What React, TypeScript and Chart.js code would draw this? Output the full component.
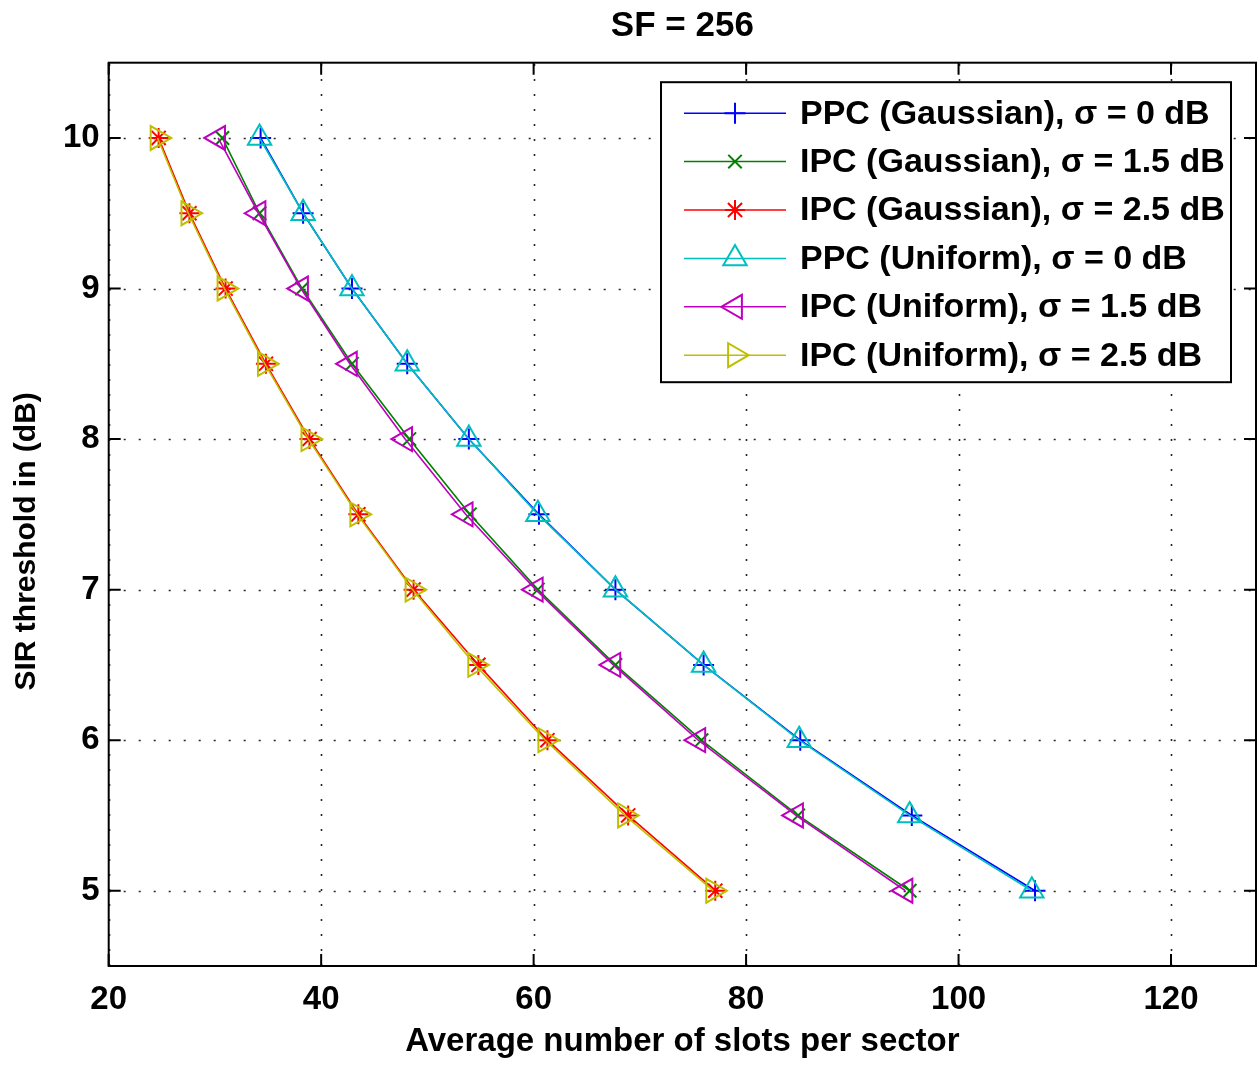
import React, { useEffect, useRef } from 'react';
import { Chart, registerables } from 'chart.js';
import { drawPoint } from 'chart.js/helpers';

Chart.register(...registerables);

const sirLevels = [10, 9.5, 9, 8.5, 8, 7.5, 7, 6.5, 6, 5.5, 5];
const ppcGaussian = [34.3, 38.3, 42.9, 48.1, 53.9, 60.5, 67.7, 76.0, 85.1, 95.6, 107.2];
const ipcGaussian15 = [30.7, 34.2, 38.2, 42.9, 48.3, 54.0, 60.4, 67.7, 75.8, 84.9, 95.4];
const ipcGaussian25 = [24.7, 27.6, 31.0, 34.8, 38.9, 43.5, 48.7, 54.8, 61.3, 68.9, 77.1];
const ppcUniform = [34.2, 38.3, 42.9, 48.1, 53.9, 60.4, 67.7, 76.0, 85.0, 95.4, 106.9];
const ipcUniform15 = [30.3, 34.1, 38.1, 42.7, 47.9, 53.6, 60.2, 67.5, 75.5, 84.7, 95.0];
const ipcUniform25 = [24.6, 27.5, 30.9, 34.7, 38.8, 43.4, 48.6, 54.5, 61.1, 68.6, 76.9];

const chartTitle = 'SF = 256';
const xAxisTitle = 'Average number of slots per sector';
const yAxisTitle = 'SIR threshold in (dB)';

const seriesLabels = [
  'PPC (Gaussian), \u03c3 = 0 dB',
  'IPC (Gaussian), \u03c3 = 1.5 dB',
  'IPC (Gaussian), \u03c3 = 2.5 dB',
  'PPC (Uniform), \u03c3 = 0 dB',
  'IPC (Uniform), \u03c3 = 1.5 dB',
  'IPC (Uniform), \u03c3 = 2.5 dB',
];
const seriesValues = [ppcGaussian, ipcGaussian15, ipcGaussian25, ppcUniform, ipcUniform15, ipcUniform25];
const seriesColors = ['#0000ff', '#008000', '#ff0000', '#00bfbf', '#bf00bf', '#bfbf00'];
const seriesMarkers = ['cross', 'crossRot', 'star', 'triangle', 'triangle', 'triangle'];
const seriesMarkerRotation = [0, 0, 0, 0, -90, 90];
const seriesMarkerRadius = [10.5, 9.5, 10, 13.5, 13.8, 13.8];

const xTickValues = [20, 40, 60, 80, 100, 120];
const yTickValues = [5, 6, 7, 8, 9, 10];
const xRange = [20, 128];
const yRange = [4.5, 10.5];

const FONT = "'Liberation Sans', Arial, Helvetica, sans-serif";

const textPlugin = {
  id: 'titles',
  afterDraw(chart: any) {
    const { ctx, chartArea: a } = chart;
    ctx.save();
    ctx.fillStyle = '#000';
    ctx.font = `bold 35px ${FONT}`;
    ctx.textAlign = 'center';
    ctx.textBaseline = 'middle';
    ctx.fillText(chartTitle, (a.left + a.right) / 2, 26);
    ctx.translate(27, (a.top + a.bottom) / 2 + 27);
    ctx.rotate(-Math.PI / 2);
    ctx.font = `bold 30px ${FONT}`;
    ctx.fillText(yAxisTitle, 0, 0);
    ctx.restore();
  },
};

const gridPlugin = {
  id: 'matlabGrid',
  beforeDatasetsDraw(chart: any) {
    const { ctx, chartArea: a, scales } = chart;
    ctx.save();
    ctx.strokeStyle = '#262626';
    ctx.lineWidth = 1.6;
    ctx.setLineDash([2, 13]);
    for (const v of xTickValues) {
      const px = Math.round(scales.x.getPixelForValue(v)) + 0.5;
      ctx.beginPath();
      ctx.moveTo(px, a.bottom);
      ctx.lineTo(px, a.top);
      ctx.stroke();
    }
    for (const v of yTickValues) {
      const py = Math.round(scales.y.getPixelForValue(v)) + 0.5;
      ctx.beginPath();
      ctx.moveTo(a.left, py);
      ctx.lineTo(a.right, py);
      ctx.stroke();
    }
    ctx.restore();
  },
};

const framePlugin = {
  id: 'matlabFrame',
  afterDatasetsDraw(chart: any) {
    const { ctx, chartArea: a, scales } = chart;
    ctx.save();
    ctx.setLineDash([]);
    ctx.strokeStyle = '#000';
    ctx.lineWidth = 2;
    ctx.strokeRect(a.left, a.top, a.right - a.left, a.bottom - a.top);
    const tl = 12;
    ctx.beginPath();
    for (const v of xTickValues) {
      const px = scales.x.getPixelForValue(v);
      ctx.moveTo(px, a.bottom);
      ctx.lineTo(px, a.bottom - tl);
      ctx.moveTo(px, a.top);
      ctx.lineTo(px, a.top + tl);
    }
    for (const v of yTickValues) {
      const py = scales.y.getPixelForValue(v);
      ctx.moveTo(a.left, py);
      ctx.lineTo(a.left + tl, py);
      ctx.moveTo(a.right, py);
      ctx.lineTo(a.right - tl, py);
    }
    ctx.stroke();
    ctx.restore();
  },
};

const legendPlugin = {
  id: 'matlabLegend',
  afterDraw(chart: any) {
    const { ctx, chartArea: a } = chart;
    const right = a.right - 25;
    const left = right - 570;
    const top = a.top + 19.5;
    const height = 300;
    ctx.save();
    ctx.fillStyle = '#fff';
    ctx.fillRect(left, top, right - left, height);
    ctx.strokeStyle = '#000';
    ctx.lineWidth = 2;
    ctx.strokeRect(left, top, right - left, height);
    const rowH = 48.4;
    const firstY = top + 31;
    seriesLabels.forEach((label, i) => {
      const y = firstY + i * rowH;
      const color = seriesColors[i];
      ctx.strokeStyle = color;
      ctx.lineWidth = 1.5;
      ctx.beginPath();
      ctx.moveTo(left + 23, y);
      ctx.lineTo(left + 125, y);
      ctx.stroke();
      ctx.fillStyle = 'rgba(0,0,0,0)';
      ctx.lineWidth = 2;
      drawPoint(ctx, {
        pointStyle: seriesMarkers[i],
        rotation: seriesMarkerRotation[i],
        radius: seriesMarkerRadius[i],
        borderWidth: 2,
      } as any, left + 74, y);
      ctx.fillStyle = '#000';
      ctx.font = `bold 34px ${FONT}`;
      ctx.textBaseline = 'middle';
      ctx.textAlign = 'left';
      ctx.fillText(label, left + 139, y + 1);
    });
    ctx.restore();
  },
};

export default function App() {
  const ref = useRef<HTMLCanvasElement>(null);
  useEffect(() => {
    document.body.style.margin = '0';
    const datasets = seriesLabels.map((label, i) => ({
      label,
      data: sirLevels.map((y, j) => ({ x: seriesValues[i][j], y })),
      borderColor: seriesColors[i],
      backgroundColor: seriesColors[i],
      borderWidth: 1.6,
      pointStyle: seriesMarkers[i] as any,
      rotation: seriesMarkerRotation[i],
      pointRadius: seriesMarkerRadius[i],
      pointBorderWidth: 2,
      pointBorderColor: seriesColors[i],
      pointBackgroundColor: 'rgba(0,0,0,0)',
      showLine: true,
      fill: false,
      tension: 0,
      order: seriesLabels.length - i,
    }));
    const chart = new Chart(ref.current!, {
      type: 'line',
      data: { datasets },
      options: {
        animation: false,
        responsive: false,
        devicePixelRatio: 1,
        layout: { autoPadding: false, padding: { left: 0, right: 2, top: 62.7, bottom: 0 } },
        plugins: {
          legend: { display: false },
          tooltip: { enabled: false },
          title: { display: false },
        },
        scales: {
          x: {
            type: 'linear',
            min: xRange[0],
            max: xRange[1],
            afterBuildTicks: (s: any) => {
              s.ticks = xTickValues.map((v) => ({ value: v }));
            },
            afterFit: (s: any) => {
              s.height = 101;
              s.paddingLeft = 0;
              s.paddingRight = 0;
            },
            grid: { display: false, drawTicks: false },
            border: { display: false },
            ticks: {
              color: '#000',
              font: { family: FONT, size: 33, weight: 'bold' },
              padding: 14,
              maxRotation: 0,
              autoSkip: false,
            },
            title: {
              display: true,
              text: xAxisTitle,
              color: '#000',
              font: { family: FONT, size: 33, weight: 'bold' },
              padding: { top: 0, bottom: 5 },
            },
          },
          y: {
            type: 'linear',
            min: yRange[0],
            max: yRange[1],
            afterBuildTicks: (s: any) => {
              s.ticks = yTickValues.map((v) => ({ value: v }));
            },
            afterFit: (s: any) => {
              s.width = 108.7;
              s.paddingTop = 0;
              s.paddingBottom = 0;
            },
            grid: { display: false, drawTicks: false },
            border: { display: false },
            ticks: {
              color: '#000',
              font: { family: FONT, size: 33, weight: 'bold' },
              padding: 9,
              autoSkip: false,
            },
            title: { display: false },
          },
        },
      },
      plugins: [gridPlugin, framePlugin, legendPlugin, textPlugin],
    });
    return () => chart.destroy();
  }, []);
  return (
    <div style={{ width: 1258, height: 1067 }}>
      <canvas ref={ref} width={1258} height={1067} style={{ display: 'block' }} />
    </div>
  );
}
